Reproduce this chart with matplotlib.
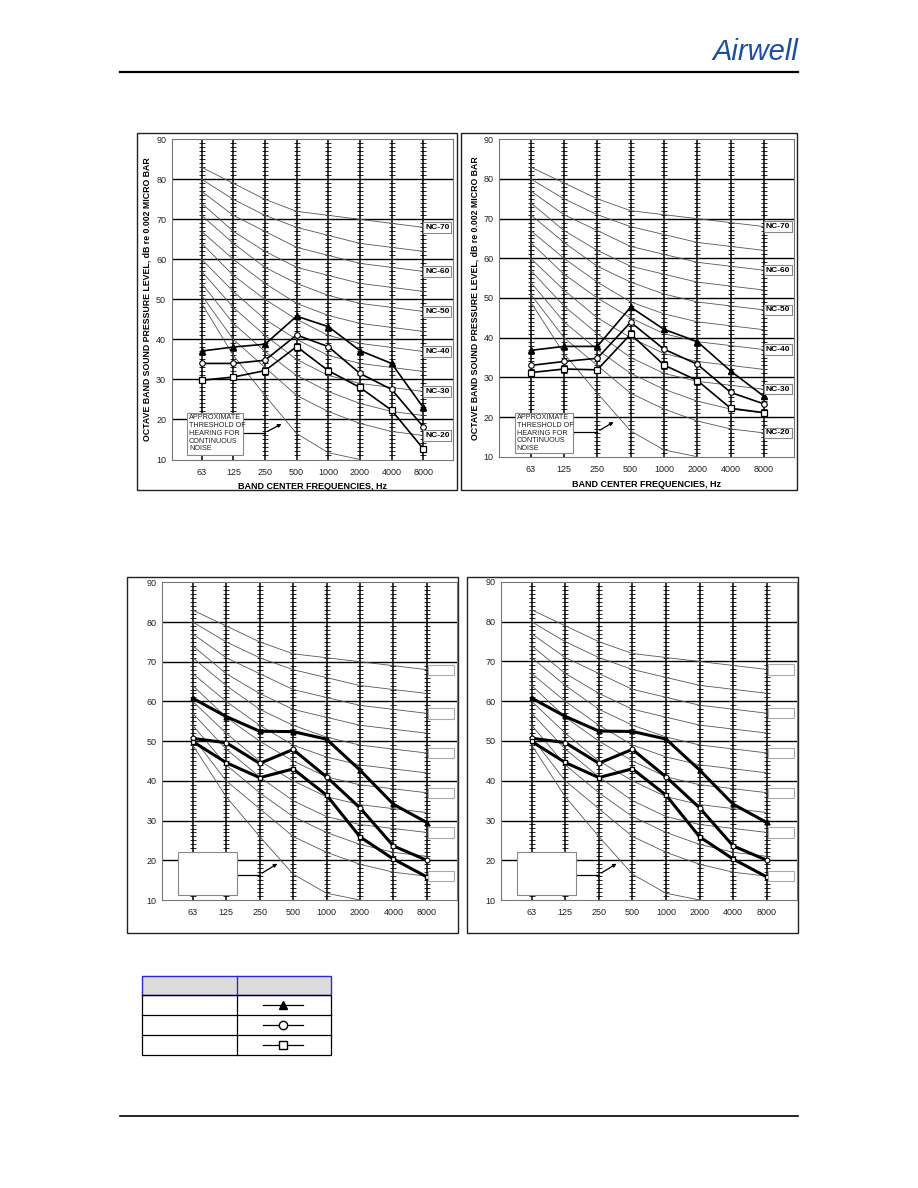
import matplotlib.pyplot as plt
from matplotlib.patches import Rectangle

plt.rcParams["font.family"] = ["Liberation Sans", "DejaVu Sans"]

W, H = 918, 1188

# 频率 / 刻度
freqs = ['63', '125', '250', '500', '1000', '2000', '4000', '8000']
y_ticks = [10, 20, 30, 40, 50, 60, 70, 80, 90]

# NC 曲线 (NC-20 ... NC-70)
nc_names = ['NC-20', 'NC-25', 'NC-30', 'NC-35', 'NC-40', 'NC-45',
            'NC-50', 'NC-55', 'NC-60', 'NC-65', 'NC-70']
nc_values = [
    [51, 40, 33, 26, 22, 19, 17, 16],
    [54, 44, 37, 31, 27, 24, 22, 21],
    [57, 48, 41, 35, 31, 29, 28, 27],
    [60, 52, 45, 40, 36, 34, 33, 32],
    [64, 56, 50, 45, 41, 39, 38, 37],
    [67, 60, 54, 49, 46, 44, 43, 42],
    [71, 64, 58, 54, 51, 49, 48, 47],
    [74, 67, 62, 58, 56, 54, 53, 52],
    [77, 71, 67, 63, 61, 59, 58, 57],
    [80, 75, 71, 68, 66, 64, 63, 62],
    [83, 79, 75, 72, 71, 70, 69, 68],
]
nc_labeled = ['NC-20', 'NC-30', 'NC-40', 'NC-50', 'NC-60', 'NC-70']
# 听阈曲线 (到 2000 Hz 为止)
threshold = [49, 36, 26, 16.5, 11.7, 10]

# 左上图
tl_tri = [37.1, 38.1, 38.8, 45.8, 43.2, 37.2, 34.0, 23.0]
tl_cir = [34.0, 34.0, 34.8, 41.1, 38.2, 31.5, 27.5, 18.2]
tl_sq = [29.8, 30.6, 32.2, 38.2, 32.2, 28.0, 22.3, 12.7]
# 右上图
tr_tri = [36.8, 37.8, 37.8, 47.7, 42.1, 39.0, 31.6, 25.2]
tr_cir = [33.0, 34.0, 34.8, 43.9, 37.1, 33.3, 26.2, 23.3]
tr_sq = [31.2, 32.1, 31.9, 40.9, 33.1, 29.2, 22.2, 21.1]
# 下面两张图
bl_tri = [60.8, 56.2, 52.5, 52.4, 50.5, 42.7, 34.1, 29.5]
bl_cir = [50.7, 49.6, 44.4, 47.9, 41.0, 33.2, 23.6, 20.0]
bl_sq = [49.9, 44.6, 40.8, 43.0, 36.4, 25.9, 20.3, 15.8]
br_tri = bl_tri
br_cir = bl_cir
br_sq = bl_sq

ylabel_txt = 'OCTAVE BAND SOUND PRESSURE LEVEL, dB re 0.002 MICRO BAR'
xlabel_txt = 'BAND CENTER FREQUENCIES, Hz'
thr_txt = 'APPROXIMATE\nTHRESHOLD OF\nHEARING FOR\nCONTINUOUS\nNOISE'


def rect(l, t, r, b):
    return [l / W, 1 - b / H, (r - l) / W, (b - t) / H]


def draw_chart(ax, tri, cir, sq, xlim, lw, ms, labels, box):
    n = len(freqs)
    xs = list(range(n))
    ax.set_xlim(*xlim)
    ax.set_ylim(10, 90)
    for s in ax.spines.values():
        s.set_color('#777777')
        s.set_linewidth(0.8)
    ax.set_xticks(xs)
    ax.set_xticklabels(freqs, fontsize=6.5, color='#222222')
    ax.set_yticks(y_ticks)
    ax.set_yticklabels([str(v) for v in y_ticks], fontsize=6.5,
                       color='#222222')
    ax.tick_params(length=0, pad=4)
    ax.tick_params(axis='x', pad=6)
    for yv in y_ticks[1:-1]:
        ax.axhline(yv, color='black', lw=1.0, zorder=1)
    # 刻度尺形式的竖线
    for i in xs:
        ax.plot([i, i], [10, 90], color='black', lw=1.1, zorder=2)
        ax.plot([i] * 79, list(range(11, 90)), ls='none', marker='_',
                ms=4.2, mew=0.6, color='black', zorder=2)
    for name, vals in zip(nc_names, nc_values):
        ax.plot(xs, vals, color='#555555', lw=0.6, zorder=3)
        if name in nc_labeled:
            if labels:
                ax.text(7.06, vals[-1], name, fontsize=6, fontweight='bold',
                        va='center', ha='left', zorder=6,
                        bbox=dict(boxstyle='square,pad=0.2', fc='white',
                                  ec='#888888', lw=0.8))
            else:
                ax.add_patch(Rectangle((7.03, vals[-1] - 1.3), 0.78, 2.6,
                                       fc='white', ec='#aaaaaa', lw=0.8,
                                       zorder=6))
    ax.plot(xs[:len(threshold)], threshold, color='#555555', lw=0.6, zorder=3)
    ax.plot(xs, tri, color='black', lw=lw, marker='^', ms=ms,
            mfc='black', mec='black', zorder=4)
    ax.plot(xs, cir, color='black', lw=lw, marker='o', ms=ms,
            mfc='white', mec='black', mew=0.8, zorder=4)
    ax.plot(xs, sq, color='black', lw=lw, marker='s', ms=ms,
            mfc='white', mec='black', mew=0.9, zorder=4)
    # 听阈说明框
    bx0, bx1, by0, by1, ly, ax_, ay_ = box
    ax.add_patch(Rectangle((bx0, by0), bx1 - bx0, by1 - by0, fc='white',
                           ec='#888888', lw=0.8, zorder=6))
    if labels:
        ax.text(bx0 + 0.05, by1 - 0.4, thr_txt, fontsize=5.2, va='top',
                ha='left', linespacing=1.15, color='#222222', zorder=7)
    ax.plot([bx1, 2.0], [ly, ly], color='black', lw=0.9, zorder=5)
    ax.annotate('', xy=(ax_, ay_), xytext=(2.0, ly),
                arrowprops=dict(arrowstyle='-|>', lw=0.9, color='black',
                                mutation_scale=5), zorder=5)


fig = plt.figure(figsize=(W / 100, H / 100), dpi=100)

ax1 = fig.add_axes(rect(171.7, 139.3, 452.7, 459.5))
draw_chart(ax1, tl_tri, tl_cir, tl_sq, (-0.947, 7.93), 1.2, 4, True,
           (-0.45, 1.32, 11.1, 21.7, 16.7, 2.6, 19.2))
ax1.set_ylabel(ylabel_txt, fontsize=6.3, fontweight='bold', labelpad=3)
ax1.set_xlabel(xlabel_txt, fontsize=6.5, fontweight='bold', labelpad=4)

ax2 = fig.add_axes(rect(499.3, 139.3, 794, 456.7))
draw_chart(ax2, tr_tri, tr_cir, tr_sq, (-0.94, 7.9), 1.2, 4, True,
           (-0.47, 1.28, 11.0, 21.1, 16.3, 2.56, 19.1))
ax2.set_ylabel(ylabel_txt, fontsize=6.3, fontweight='bold', labelpad=3)
ax2.set_xlabel(xlabel_txt, fontsize=6.5, fontweight='bold', labelpad=4)

ax3 = fig.add_axes(rect(162.3, 582.3, 456.7, 900))
draw_chart(ax3, bl_tri, bl_cir, bl_sq, (-0.91, 7.89), 2.2, 3.5, False,
           (-0.43, 1.31, 11.2, 22.0, 16.4, 2.6, 19.5))

ax4 = fig.add_axes(rect(501, 582, 797, 900))
draw_chart(ax4, br_tri, br_cir, br_sq, (-0.91, 7.9), 2.2, 3.5, False,
           (-0.43, 1.31, 11.2, 22.0, 16.4, 2.6, 19.5))

# 页面装饰层 (像素坐标)
pg = fig.add_axes([0, 0, 1, 1], zorder=-1)
pg.set_xlim(0, W)
pg.set_ylim(H, 0)
pg.axis('off')

pg.plot([120, 798], [72, 72], color='black', lw=1.6)
pg.plot([120, 798], [1116, 1116], color='black', lw=1.2)
pg.text(798, 60, 'Airwell', fontsize=21, style='italic', color='#1b4f9f',
        ha='right', va='baseline', family='Liberation Sans')

for l, t, r, b in [(137, 133, 457, 490), (461, 133, 797, 490),
                   (127, 577, 458, 933), (467, 577, 798, 933)]:
    pg.add_patch(Rectangle((l, t), r - l, b - t, fill=False,
                           ec='#222222', lw=1.0))

# 图例表格
col = [142.3, 236.7, 330.7]
rows = [976, 995, 1015, 1035, 1055]
pg.add_patch(Rectangle((col[0], rows[0]), col[2] - col[0], rows[1] - rows[0],
                       fc='#dcdcdc', ec='#2b2bcc', lw=1.0))
pg.plot([col[1], col[1]], [rows[0], rows[1]], color='#2b2bcc', lw=1.0)
pg.plot([col[0], col[2], col[2], col[0], col[0]],
        [rows[1], rows[1], rows[-1], rows[-1], rows[1]], color='black', lw=0.9)
for yv in rows[2:-1]:
    pg.plot([col[0], col[2]], [yv, yv], color='black', lw=0.9)
pg.plot([col[1], col[1]], [rows[1], rows[-1]], color='black', lw=0.9)
legend_markers = ['^', 'o', 's']
legend_fill = ['black', 'white', 'white']
for k, (m, fc) in enumerate(zip(legend_markers, legend_fill)):
    yc = (rows[k + 1] + rows[k + 2]) / 2
    pg.plot([263, 303], [yc, yc], color='black', lw=0.9)
    pg.plot([283], [yc], marker=m, ms=6, mfc=fc, mec='black', mew=1.0,
            ls='none')

fig.savefig('out.png', dpi=100)
